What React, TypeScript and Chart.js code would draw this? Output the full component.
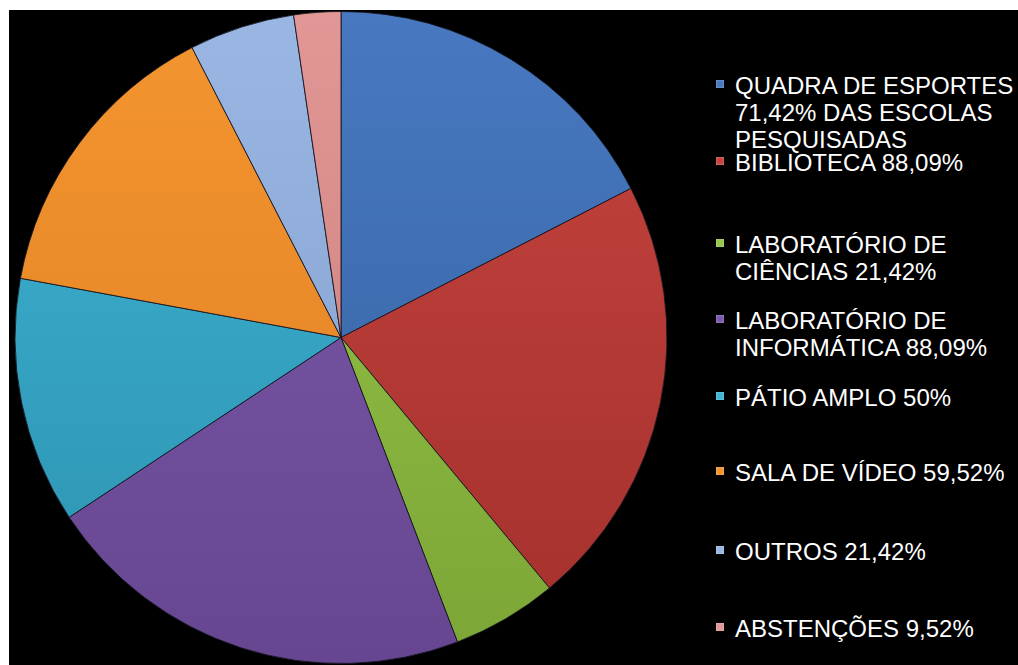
import React, { useEffect, useRef } from "react";
import { Chart, registerables } from "chart.js";

Chart.register(...registerables);

const categories: string[][] = [
  ["QUADRA DE ESPORTES", "71,42% DAS ESCOLAS", "PESQUISADAS"],
  ["BIBLIOTECA 88,09%"],
  ["LABORATÓRIO DE", "CIÊNCIAS 21,42%"],
  ["LABORATÓRIO DE", "INFORMÁTICA 88,09%"],
  ["PÁTIO AMPLO 50%"],
  ["SALA DE VÍDEO 59,52%"],
  ["OUTROS 21,42%"],
  ["ABSTENÇÕES 9,52%"],
];
const values: number[] = [71.42, 88.09, 21.42, 88.09, 50, 59.52, 21.42, 9.52];
const topColors: string[] = ["#4878c0", "#c6443f", "#96c64a", "#7c5aab", "#3fb3d3", "#f3952f", "#9ab6e2", "#e19795"];
const bottomColors: string[] = ["#33619f", "#a3302c", "#7ca636", "#674691", "#2c92b0", "#e07f25", "#819dcb", "#c97c7a"];
const legendTops: number[] = [62, 139, 221, 297, 374, 449, 528, 605];

export default function App() {
  const ref = useRef<HTMLCanvasElement | null>(null);
  useEffect(() => {
    if (!ref.current) return;
    const chart = new Chart(ref.current, {
      type: "pie",
      data: {
        labels: categories.map((c) => c.join(" ")),
        datasets: [
          {
            data: values,
            backgroundColor: (ctx: any) => {
              const i = ctx.dataIndex;
              const area = ctx.chart.chartArea;
              if (!area) return topColors[i];
              const g = ctx.chart.ctx.createLinearGradient(0, area.top, 0, area.bottom);
              g.addColorStop(0, topColors[i]);
              g.addColorStop(1, bottomColors[i]);
              return g;
            },
            borderColor: "rgba(20,20,30,0.85)",
            borderWidth: 1,
          },
        ],
      },
      options: {
        animation: false,
        responsive: true,
        maintainAspectRatio: false,
        layout: { padding: 1 },
        plugins: {
          legend: { display: false },
          tooltip: { enabled: false },
        },
      },
    });
    return () => chart.destroy();
  }, []);

  return (
    <div
      style={{
        position: "absolute",
        left: 9,
        top: 10,
        width: 1009,
        height: 655,
        background: "#000",
        overflow: "hidden",
        fontFamily: "'Liberation Sans', Arial, sans-serif",
      }}
    >
      <div style={{ position: "absolute", left: 0, top: 0, width: 664, height: 655 }}>
        <canvas ref={ref} />
      </div>
      {categories.map((lines, i) => (
        <div
          key={i}
          style={{
            position: "absolute",
            left: 707,
            top: legendTops[i],
            color: "#fff",
            fontSize: 24,
            lineHeight: "27px",
            whiteSpace: "nowrap",
          }}
        >
          <span
            style={{
              position: "absolute",
              left: 0,
              top: 8,
              width: 8,
              height: 8,
              background: topColors[i],
              boxShadow: "inset 0 0 2px rgba(255,255,255,0.5)",
            }}
          />
          <div style={{ marginLeft: 19 }}>
            {lines.map((l, j) => (
              <div key={j}>{l}</div>
            ))}
          </div>
        </div>
      ))}
    </div>
  );
}
